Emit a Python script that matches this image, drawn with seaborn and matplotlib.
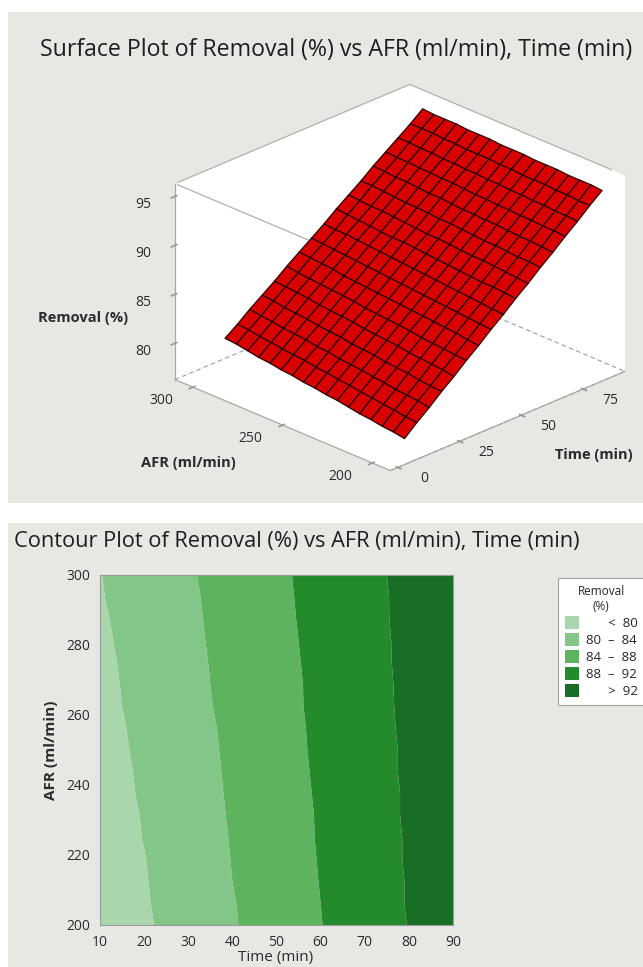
import numpy as np
import matplotlib
matplotlib.use("Agg")
import matplotlib.pyplot as plt
import seaborn as sns
from matplotlib.patches import Rectangle, Patch
from mpl_toolkits.mplot3d import proj3d

# ---------------- data ----------------
time_min = [10, 15, 20, 25, 30, 35, 40, 45, 50, 55, 60, 65, 70, 75, 80, 85, 90]
afr_ml_min = [200, 206.25, 212.5, 218.75, 225, 231.25, 237.5, 243.75, 250,
              256.25, 262.5, 268.75, 275, 281.25, 287.5, 293.75, 300]
# rows follow afr_ml_min, columns follow time_min
removal_pct = [
    [77.4, 78.5, 79.5, 80.6, 81.6, 82.7, 83.7, 84.8, 85.8, 86.9, 87.9, 89.0, 90.0, 91.1, 92.1, 93.2, 94.2],
    [77.6, 78.6, 79.7, 80.7, 81.8, 82.8, 83.8, 84.9, 85.9, 87.0, 88.0, 89.1, 90.1, 91.2, 92.2, 93.2, 94.3],
    [77.7, 78.8, 79.8, 80.8, 81.9, 82.9, 84.0, 85.0, 86.0, 87.1, 88.1, 89.1, 90.2, 91.2, 92.2, 93.3, 94.3],
    [77.9, 78.9, 79.9, 81.0, 82.0, 83.0, 84.1, 85.1, 86.1, 87.1, 88.2, 89.2, 90.2, 91.3, 92.3, 93.3, 94.3],
    [78.0, 79.1, 80.1, 81.1, 82.1, 83.1, 84.2, 85.2, 86.2, 87.2, 88.3, 89.3, 90.3, 91.3, 92.3, 93.4, 94.4],
    [78.2, 79.2, 80.2, 81.2, 82.3, 83.3, 84.3, 85.3, 86.3, 87.3, 88.3, 89.3, 90.4, 91.4, 92.4, 93.4, 94.4],
    [78.4, 79.4, 80.4, 81.4, 82.4, 83.4, 84.4, 85.4, 86.4, 87.4, 88.4, 89.4, 90.4, 91.4, 92.4, 93.4, 94.4],
    [78.5, 79.5, 80.5, 81.5, 82.5, 83.5, 84.5, 85.5, 86.5, 87.5, 88.5, 89.5, 90.5, 91.5, 92.5, 93.5, 94.5],
    [78.7, 79.7, 80.6, 81.6, 82.6, 83.6, 84.6, 85.6, 86.6, 87.6, 88.6, 89.6, 90.5, 91.5, 92.5, 93.5, 94.5],
    [78.8, 79.8, 80.8, 81.8, 82.8, 83.7, 84.7, 85.7, 86.7, 87.7, 88.6, 89.6, 90.6, 91.6, 92.6, 93.6, 94.5],
    [79.0, 80.0, 80.9, 81.9, 82.9, 83.9, 84.8, 85.8, 86.8, 87.8, 88.7, 89.7, 90.7, 91.7, 92.6, 93.6, 94.6],
    [79.1, 80.1, 81.1, 82.0, 83.0, 84.0, 84.9, 85.9, 86.9, 87.8, 88.8, 89.8, 90.7, 91.7, 92.7, 93.6, 94.6],
    [79.3, 80.2, 81.2, 82.2, 83.1, 84.1, 85.0, 86.0, 87.0, 87.9, 88.9, 89.8, 90.8, 91.8, 92.7, 93.7, 94.6],
    [79.4, 80.4, 81.3, 82.3, 83.3, 84.2, 85.2, 86.1, 87.1, 88.0, 89.0, 89.9, 90.9, 91.8, 92.8, 93.7, 94.7],
    [79.6, 80.5, 81.5, 82.4, 83.4, 84.3, 85.3, 86.2, 87.2, 88.1, 89.0, 90.0, 90.9, 91.9, 92.8, 93.8, 94.7],
    [79.8, 80.7, 81.6, 82.6, 83.5, 84.4, 85.4, 86.3, 87.2, 88.2, 89.1, 90.1, 91.0, 91.9, 92.9, 93.8, 94.7],
    [79.9, 80.8, 81.8, 82.7, 83.6, 84.6, 85.5, 86.4, 87.3, 88.3, 89.2, 90.1, 91.1, 92.0, 92.9, 93.8, 94.8],
]

band_limits = [80, 84, 88, 92]
band_labels = ["\u2007\u2007  <  80", "80  \u2013  84", "84  \u2013  88", "88  \u2013  92", "\u2007\u2007  >  92"]
band_colors = ["#a9d6ab", "#84c588", "#5eb45e", "#248b2d", "#196e26"]

time_ticks_3d = [0, 25, 50, 75]
afr_ticks_3d = [200, 250, 300]
removal_ticks_3d = [80, 85, 90, 95]
time_ticks_2d = [10, 20, 30, 40, 50, 60, 70, 80, 90]
afr_ticks_2d = [200, 220, 240, 260, 280, 300]

surface_title = "Surface Plot of Removal (%) vs AFR (ml/min), Time (min)"
contour_title = "Contour Plot of Removal (%) vs AFR (ml/min), Time (min)"

# ---------------- style ----------------
sns.set_theme(style="white")
plt.rcParams["font.family"] = ["Open Sans", "DejaVu Sans"]

W, H = 643, 967
PANEL = "#e7e7e3"
TXT = "#2b2b2b"
EDGE = "#b0b0b0"
fig = plt.figure(figsize=(W / 100, H / 100), dpi=100)
fig.patch.set_facecolor("white")


def fx(px):
    return px / W


def fy(py):
    return 1 - py / H


fig.add_artist(Rectangle((fx(8), fy(503)), (W - 8) / W, (503 - 12) / H,
                         transform=fig.transFigure, facecolor=PANEL,
                         edgecolor="none", zorder=-5))
fig.add_artist(Rectangle((fx(8), 0), (W - 8) / W, (H - 523) / H,
                         transform=fig.transFigure, facecolor=PANEL,
                         edgecolor="none", zorder=-5))

T, A = np.meshgrid(time_min, afr_ml_min)
Z = np.array(removal_pct)

# ---------------- 3D surface ----------------
ax3 = fig.add_axes([0.05, 0.5, 0.9, 0.45], projection="3d", proj_type="ortho")
ax3.patch.set_alpha(0)
XL, YL, ZL = (-3, 92), (190, 310), (76.3, 96.3)
# outer outline of the box (solid) - derived from the axis limits
ax3.plot([XL[0], XL[0], XL[1], XL[1], XL[1]], [YL[1], YL[1], YL[1], YL[0], YL[0]],
         [ZL[0], ZL[1], ZL[1], ZL[1], ZL[0]], color=EDGE, lw=0.9, zorder=1)
ax3.plot([XL[0], XL[0]], [YL[1], YL[0]], [ZL[1], ZL[1]], color=EDGE, lw=0.9, zorder=1)
ax3.plot_surface(T, A, Z, color="#d80000", edgecolor="#2a0000", linewidth=0.9,
                 shade=False, rstride=1, cstride=1, antialiased=True, zorder=5)
ax3.set_xlim(*XL)
ax3.set_ylim(*YL)
ax3.set_zlim(*ZL)
ax3.set_xticks(time_ticks_3d)
ax3.set_yticks(afr_ticks_3d)
ax3.set_zticks(removal_ticks_3d)
ax3.xaxis.set_tick_params(label1On=False, label2On=False)
ax3.yaxis.set_tick_params(label1On=False, label2On=False)
ax3.view_init(elev=25, azim=-135)
zoom = 1.0
ax3.set_box_aspect((1.09, 1, 0.71), zoom=zoom)
ax3.grid(False)
for axis in (ax3.xaxis, ax3.yaxis, ax3.zaxis):
    axis.set_pane_color((1, 1, 1, 1))
    axis.pane.set_edgecolor("none")
    axis.line.set_color("#a8a8a8")
    axis.line.set_linewidth(0.9)
# floor: dashed hidden edges
ax3.zaxis.pane.set_edgecolor("#9c9c9c")
ax3.zaxis.pane.set_linestyle((0, (4, 3)))
ax3.zaxis.pane.set_linewidth(0.8)
ax3.tick_params(axis="x", colors="#999999")
ax3.tick_params(axis="y", colors="#999999")
ax3.tick_params(axis="z", labelsize=10, labelcolor=TXT, colors="#999999")
ax3.set_xlabel("")
ax3.set_ylabel("")
ax3.set_zlabel("")


def box_px(ax):
    fig.canvas.draw()
    xl, yl, zl = ax.get_xlim(), ax.get_ylim(), ax.get_zlim()
    pts = np.array([[x, y, z] for x in xl for y in yl for z in zl]).T
    px, py, _ = proj3d.proj_transform(pts[0], pts[1], pts[2], ax.M)
    d = ax.transData.transform(np.column_stack([px, py]))
    return d[:, 0].min(), d[:, 0].max(), d[:, 1].min(), d[:, 1].max()


# target box (image pixels): x 175..625, top 85, bottom 470
tx0, tx1, ttop, tbot = 175, 625, 85, 470
for _ in range(3):
    x0, x1, y0, y1 = box_px(ax3)
    zoom *= (tx1 - tx0) / (x1 - x0)
    ax3.set_box_aspect((1.09, 1, 0.71), zoom=zoom)
    x0, x1, y0, y1 = box_px(ax3)
    cx, cy = (x0 + x1) / 2, (y0 + y1) / 2
    tcx, tcy = (tx0 + tx1) / 2, H - (ttop + tbot) / 2
    pos = ax3.get_position(original=True)
    ax3.set_position([pos.x0 + (tcx - cx) / W, pos.y0 + (tcy - cy) / H,
                      pos.width, pos.height])

fig.canvas.draw()


def floor_label(x, y, text):
    px, py, _ = proj3d.proj_transform(np.array([x]), np.array([y]),
                                      np.array([ZL[0]]), ax3.M)
    dx, dy = ax3.transData.transform((px[0], py[0]))
    fig.text(dx / W, dy / H, text, ha="center", va="center",
             fontsize=10, color=TXT)


# tick labels of the floor axes, offset within the floor plane
for t in time_ticks_3d:
    floor_label(t, YL[0] - 15, str(t))
for a in afr_ticks_3d:
    floor_label(XL[0] - 13, a, str(a))

fig.text(fx(336), fy(50), surface_title, ha="center", va="center",
         fontsize=16.7, color="#1e1e1e")
fig.text(fx(83), fy(318), "Removal (%)", ha="center", va="center",
         fontsize=10.5, fontweight="bold", color=TXT)
fig.text(fx(188), fy(463), "AFR (ml/min)", ha="center", va="center",
         fontsize=10.5, fontweight="bold", color=TXT)
fig.text(fx(594), fy(455), "Time (min)", ha="center", va="center",
         fontsize=10.5, fontweight="bold", color=TXT)

# ---------------- contour ----------------
ax2 = fig.add_axes([fx(100), fy(925), (453 - 100) / W, (925 - 575) / H])
ax2.contourf(time_min, afr_ml_min, Z, levels=[0] + band_limits + [200],
             colors=band_colors, antialiased=True)
ax2.set_xlim(10, 90)
ax2.set_ylim(200, 300)
ax2.set_xticks(time_ticks_2d)
ax2.set_yticks(afr_ticks_2d)
ax2.tick_params(direction="out", length=4, width=0.8, color="#9a9a9a",
                labelsize=10, labelcolor=TXT, pad=3)
for s in ax2.spines.values():
    s.set_color("#9a9a9a")
    s.set_linewidth(0.8)
ax2.set_xlabel("")
ax2.set_ylabel("")
fig.text(fx(14), fy(542), contour_title, ha="left", va="center",
         fontsize=15.7, color="#1e1e1e")
fig.text(fx(51), fy(750), "AFR (ml/min)", ha="center", va="center",
         rotation=90, fontsize=11, fontweight="bold", color=TXT)
fig.text(fx(276), fy(957), "Time (min)", ha="center", va="center",
         fontsize=11, color=TXT)

handles = [Patch(facecolor=c, edgecolor="none") for c in band_colors]
leg = fig.legend(handles, band_labels, title="Removal\n(%)",
                 loc="upper left", bbox_to_anchor=(fx(558), fy(578)),
                 fontsize=9.5, title_fontsize=8.5, frameon=True, fancybox=False,
                 edgecolor="#a0a0a0", facecolor="white", framealpha=1,
                 handlelength=1.1, handleheight=1.1, handletextpad=0.5,
                 labelspacing=0.25, borderpad=0.5, borderaxespad=0)
leg.get_frame().set_linewidth(0.8)
leg.get_title().set_multialignment("center")

fig.savefig("out.png", dpi=100, facecolor=fig.get_facecolor())
